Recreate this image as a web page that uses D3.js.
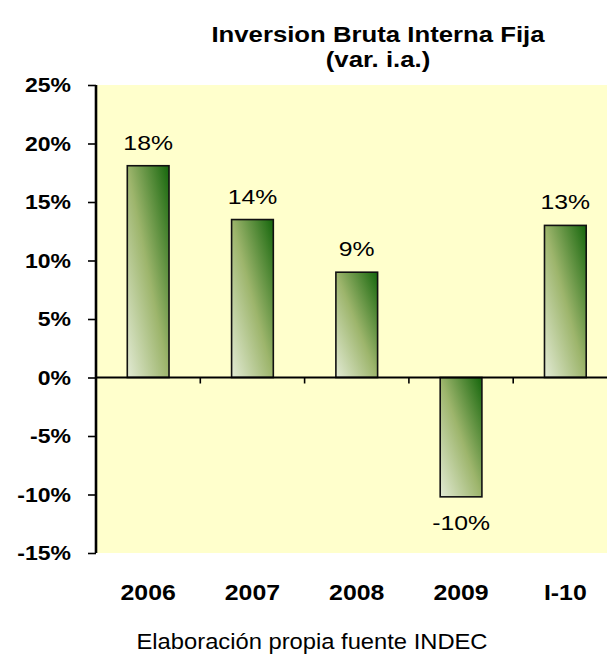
<!DOCTYPE html>
<html>
<head>
<meta charset="utf-8">
<script src="https://cdn.jsdelivr.net/npm/d3@7"></script>
<style>
  html, body { margin: 0; padding: 0; background: #ffffff; }
  svg { display: block; }
  text { font-family: "Liberation Sans", Arial, sans-serif; }
</style>
</head>
<body>
<script>
// ---- data ----
const categories = ["2006", "2007", "2008", "2009", "I-10"];
const values = [18.1, 13.5, 9.0, -10.2, 13.0];
const valueLabels = ["18%", "14%", "9%", "-10%", "13%"];
const yTicks = [25, 20, 15, 10, 5, 0, -5, -10, -15];
const titleLines = ["Inversion Bruta Interna Fija", "(var. i.a.)"];
const footer = "Elaboración propia fuente INDEC";

const W = 607, H = 654;
const plot = { left: 96, top: 85, bottom: 553, right: 96 + 5 * 104.3 };

const svg = d3.select("body").append("svg").attr("width", W).attr("height", H);

const defs = svg.append("defs");
const grad = defs.append("linearGradient").attr("id", "barGrad")
  .attr("x1", 0).attr("y1", 1).attr("x2", 1).attr("y2", 0);
grad.append("stop").attr("offset", "0%").attr("stop-color", "#e2ead4");
grad.append("stop").attr("offset", "50%").attr("stop-color", "#9db56c");
grad.append("stop").attr("offset", "100%").attr("stop-color", "#15660c");

const x = d3.scaleBand().domain(categories).range([plot.left, plot.right]).paddingInner(0.6).paddingOuter(0.3);
const xb = d3.scaleBand().domain(categories).range([plot.left, plot.right]).padding(0);
const y = d3.scaleLinear().domain([-15, 25]).range([plot.bottom, plot.top]);

// plot background
svg.append("rect").attr("x", plot.left).attr("y", plot.top)
  .attr("width", plot.right - plot.left).attr("height", plot.bottom - plot.top)
  .attr("fill", "#ffffcc");

// helper for stretched text
function stext(g, tx, ty, str, opts) {
  const t = g.append("g").attr("transform", `translate(${tx},${ty}) scale(${opts.sx || 1},1)`)
    .append("text").attr("x", 0).attr("y", 0)
    .attr("text-anchor", opts.anchor || "middle")
    .attr("font-size", opts.size)
    .attr("font-weight", opts.bold ? "bold" : "normal")
    .attr("fill", "#000")
    .text(str);
  if (opts.dy) t.attr("dy", opts.dy);
  return t;
}

// bars
const data = categories.map((c, i) => ({ c, v: values[i], label: valueLabels[i] }));
svg.append("g").selectAll("rect").data(data).join("rect")
  .attr("x", d => x(d.c))
  .attr("width", x.bandwidth())
  .attr("y", d => y(Math.max(0, d.v)))
  .attr("height", d => Math.abs(y(d.v) - y(0)))
  .attr("fill", "url(#barGrad)")
  .attr("stroke", "#111")
  .attr("stroke-width", 1.6);

// y axis
const yAxis = d3.axisLeft(y).tickValues(yTicks).tickSize(8).tickFormat("");
const gy = svg.append("g").attr("transform", `translate(${plot.left},0)`).call(yAxis);
gy.select(".domain").remove();
gy.selectAll(".tick line").attr("stroke", "#000").attr("stroke-width", 1.6);
svg.append("line").attr("x1", plot.left).attr("x2", plot.left)
  .attr("y1", plot.top).attr("y2", plot.bottom)
  .attr("stroke", "#000").attr("stroke-width", 2.6);

const gyl = svg.append("g");
yTicks.forEach(t => stext(gyl, 71, y(t), t + "%", { size: 20, bold: true, anchor: "end", sx: 1.15, dy: "0.36em" }));

// x axis (zero line) with ticks at category boundaries
const xAxis = d3.axisBottom(xb).tickSize(0).tickFormat("");
const gx = svg.append("g").attr("transform", `translate(0,${y(0)})`).call(xAxis);
gx.select(".domain").attr("stroke", "#000").attr("stroke-width", 2.2).attr("d", `M${plot.left},0H${plot.right}`);
gx.selectAll(".tick").remove();
gx.selectAll(".bnd").data(categories.slice(1)).join("line")
  .attr("x1", d => xb(d)).attr("x2", d => xb(d))
  .attr("y1", 0).attr("y2", 6)
  .attr("stroke", "#000").attr("stroke-width", 1.6);

// value labels
const gl = svg.append("g");
data.forEach(d => {
  const cx = x(d.c) + x.bandwidth() / 2;
  const ty = d.v >= 0 ? y(d.v) - 16 : y(d.v) + 33;
  stext(gl, cx, ty, d.label, { size: 21, sx: 1.18 });
});

// category labels
const gc = svg.append("g");
categories.forEach(c => stext(gc, xb(c) + xb.bandwidth() / 2, 600, c, { size: 22, bold: true, sx: 1.13 }));

// title
const gt = svg.append("g");
stext(gt, 378, 41.5, titleLines[0], { size: 22, bold: true, sx: 1.17 });
stext(gt, 378, 66.5, titleLines[1], { size: 22, bold: true, sx: 1.17 });

// footer
stext(svg, 312, 649, footer, { size: 22, sx: 1.08 });
</script>
</body>
</html>
